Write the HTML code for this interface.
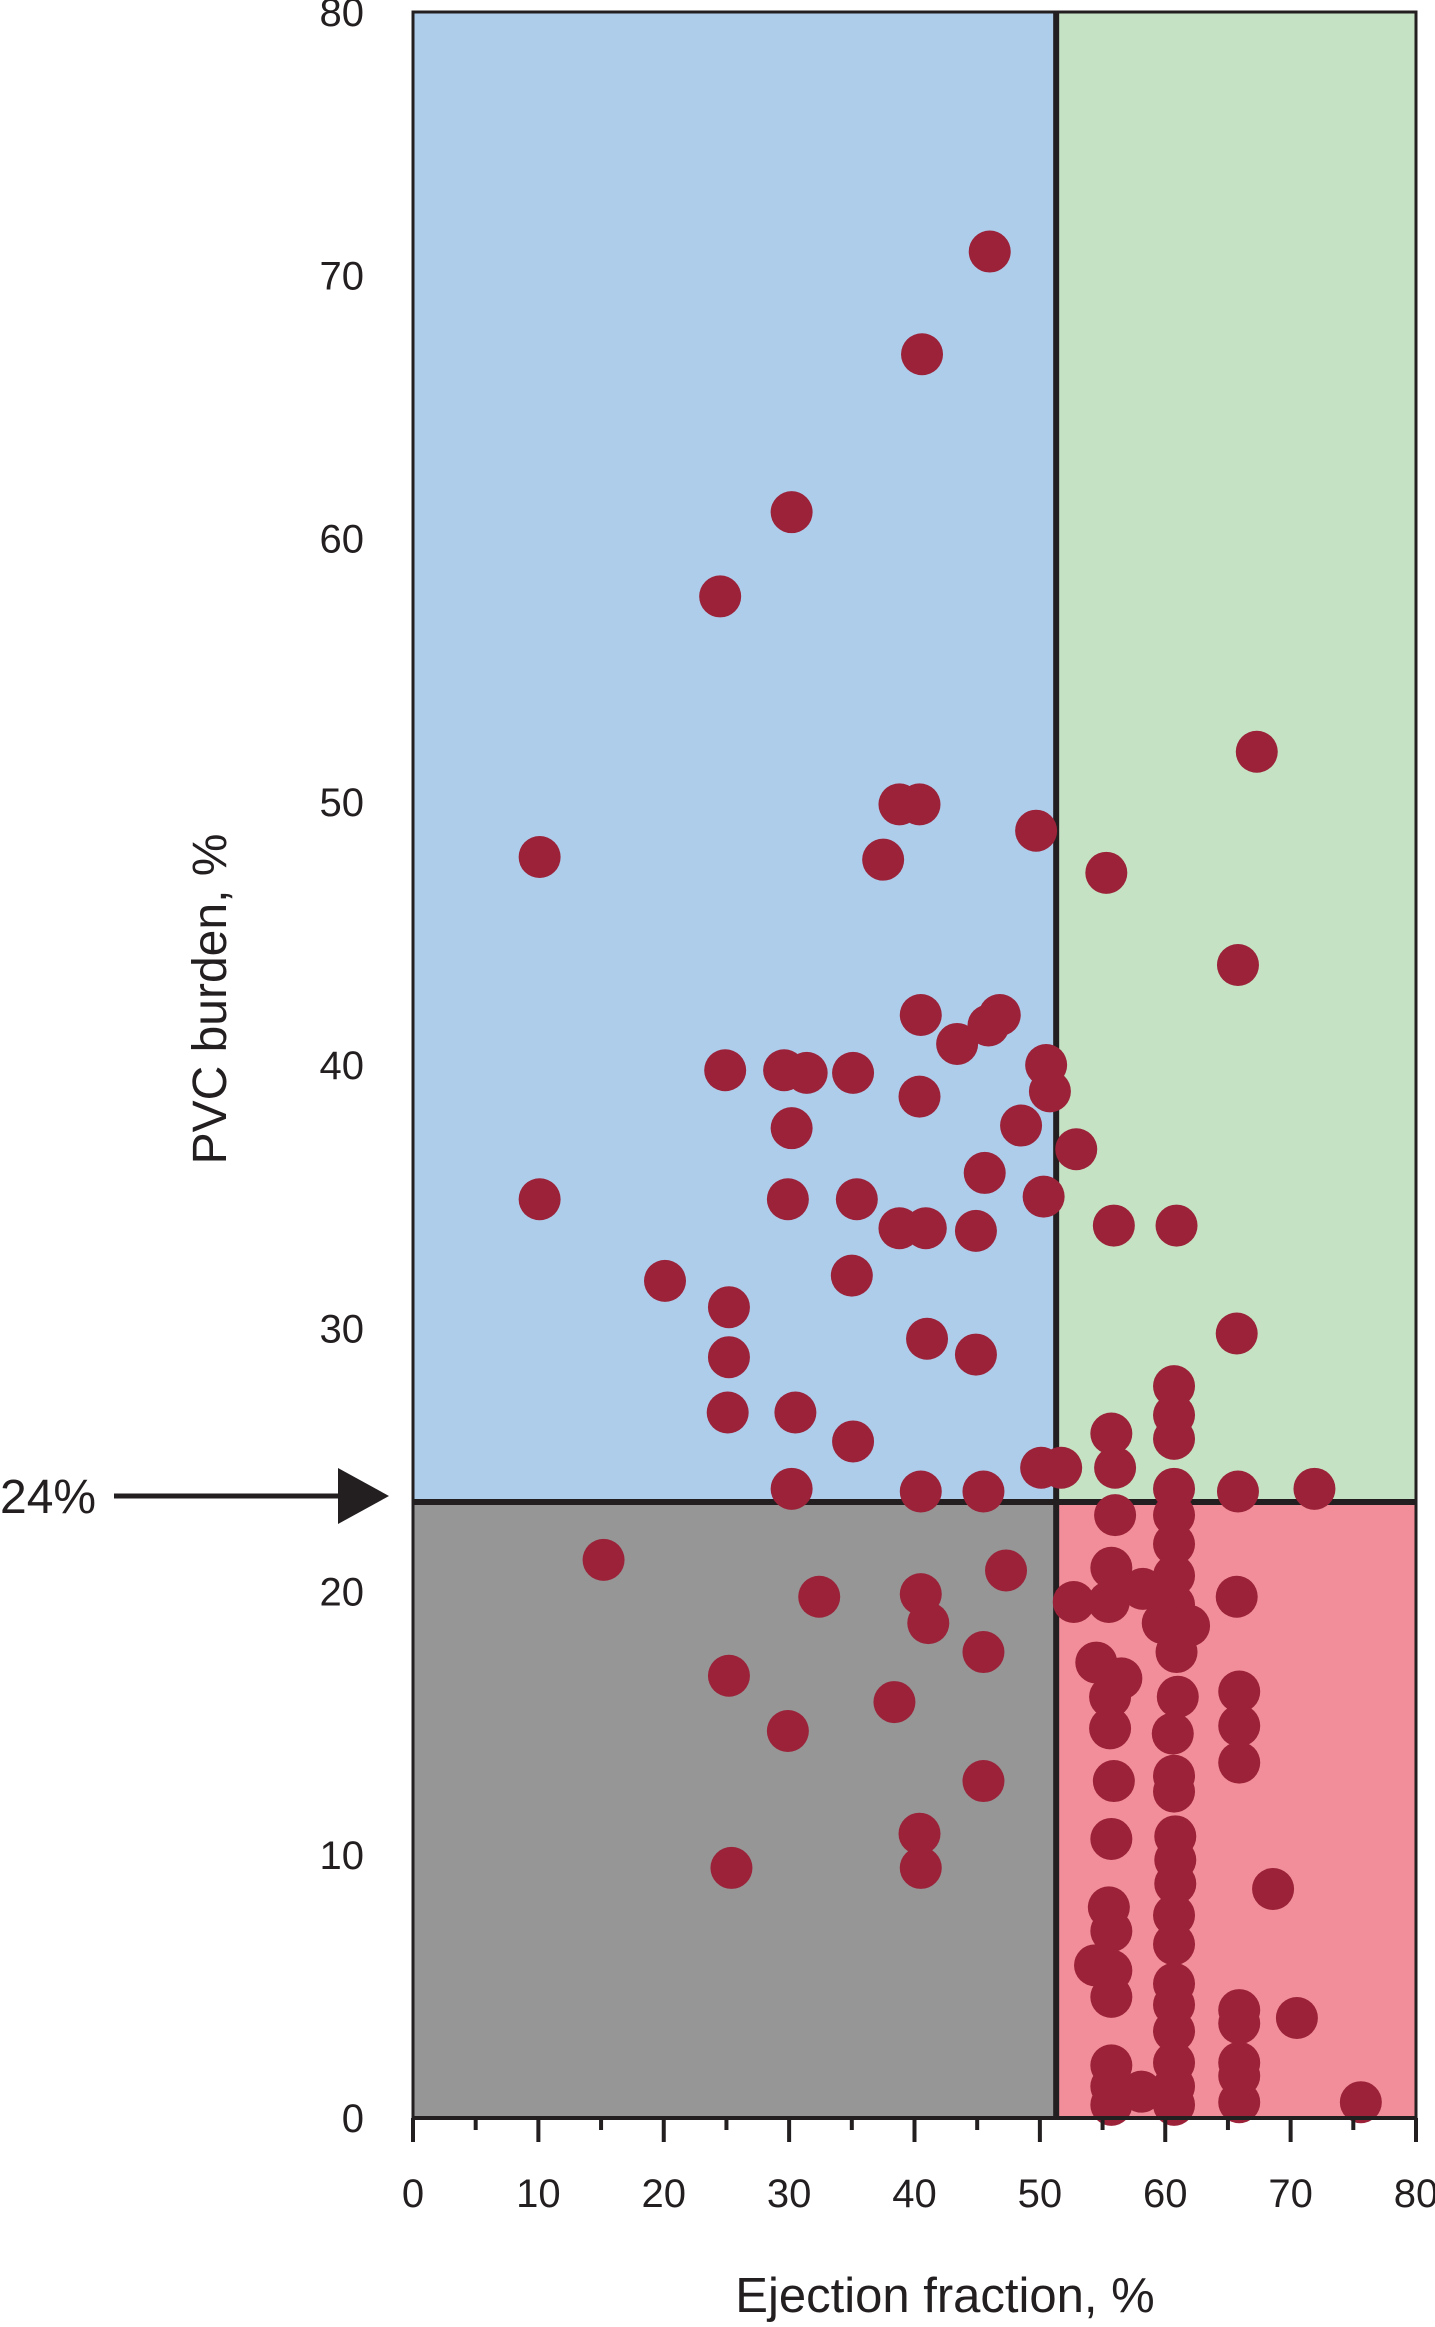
<!DOCTYPE html>
<html><head><meta charset="utf-8"><style>
html,body{margin:0;padding:0;background:#fff;}
svg{display:block;font-family:"Liberation Sans",Arial,sans-serif;}
</style></head><body>
<svg id="chart" width="1435" height="2327" viewBox="0 0 1435 2327">
<g id="regions"></g><g id="dots"></g><g id="axes"></g>
<text x="226" y="999" font-size="48" fill="#231f20" text-anchor="middle" transform="rotate(-90 226 999)">PVC burden, %</text>
<text x="945" y="2312" font-size="49" fill="#231f20" text-anchor="middle">Ejection fraction, %</text>
<g>
<text x="0" y="1513" font-size="48" fill="#231f20">24%</text>
<line x1="114" y1="1496" x2="342" y2="1496" stroke="#231f20" stroke-width="5"/>
<polygon points="338,1468 389,1496 338,1524" fill="#231f20"/>
</g>
</svg>
<script>
const xTicks=[0,10,20,30,40,50,60,70,80];
const yTicks=[0,10,20,30,40,50,60,70,80];
const efCut=[51.3];
const pvcCut=[23.4];
const efValues=[46,40.6,30.2,24.5,67.3,38.8,40.4,49.7,10.1,37.5,55.3,65.8,40.5,46.8,45.9,43.4,50.5,24.9,29.6,31.4,35.1,50.8,40.4,30.2,48.5,52.9,45.6,10.1,29.9,35.4,50.3,38.8,40.9,44.9,55.9,60.9,20.1,35.0,25.2,65.7,41.0,25.2,44.9,60.7,25.1,30.5,60.7,60.7,55.7,35.1,50.1,51.7,56.0,30.2,40.5,45.5,60.7,65.8,71.9,60.7,56.0,15.2,60.7,47.3,55.7,60.7,32.4,40.5,52.7,55.5,58.2,65.7,60.7,59.8,61.9,41.1,60.9,45.5,54.5,25.2,56.5,55.6,38.4,61.0,65.9,55.6,29.9,60.6,65.9,65.9,45.5,55.9,60.7,60.7,40.4,55.7,60.8,60.8,25.4,40.5,60.8,68.6,55.5,60.7,55.7,60.7,54.4,55.7,60.7,55.7,60.7,65.9,65.9,70.5,60.7,55.7,60.7,65.9,55.7,58.1,60.7,65.9,55.7,60.7,65.9,75.6];
const pvcValues=[70.9,67.0,61.0,57.8,51.9,49.9,49.9,48.9,47.9,47.8,47.3,43.8,41.9,41.9,41.5,40.8,40.0,39.8,39.8,39.7,39.7,39.0,38.8,37.6,37.7,36.8,35.9,34.9,34.9,34.9,35.0,33.8,33.8,33.7,33.9,33.9,31.8,32.0,30.8,29.8,29.6,28.9,29.0,27.8,26.8,26.8,26.7,25.8,26.0,25.7,24.7,24.7,24.7,23.9,23.8,23.8,23.9,23.8,23.9,22.9,22.9,21.2,21.8,20.8,20.9,20.6,19.8,19.9,19.6,19.6,20.1,19.8,19.5,18.8,18.7,18.8,17.7,17.7,17.3,16.8,16.7,16.0,15.8,16.0,16.2,14.8,14.7,14.6,14.9,13.5,12.8,12.8,13.0,12.4,10.8,10.6,10.7,9.8,9.5,9.5,8.9,8.7,8.0,7.7,7.1,6.6,5.8,5.6,5.1,4.6,4.3,4.1,3.6,3.8,3.3,2.0,2.1,2.1,1.2,1.0,1.2,1.6,0.5,0.5,0.6,0.6];
const L=413,R=1416,T=12,B=2118,NS='http://www.w3.org/2000/svg';
const xs=v=>L+(R-L)*v/80, ys=v=>B-(B-T)*v/80;
function mk(tag,a,p){const e=document.createElementNS(NS,tag);for(const k in a)e.setAttribute(k,a[k]);p.appendChild(e);return e;}
const reg=document.getElementById('regions');
const xc=xs(efCut[0]), yc=ys(pvcCut[0]);
let r;
r=mk('rect',{x:L,y:T,width:xc-L,height:yc-T,fill:'#aecdeb'},reg);


r=mk('rect',{x:xc,y:T,width:R-xc,height:yc-T,fill:'#c5e3c4'},reg);


r=mk('rect',{x:L,y:yc,width:xc-L,height:B-yc,fill:'#969696'},reg);


r=mk('rect',{x:xc,y:yc,width:R-xc,height:B-yc,fill:'#f28e99'},reg);


mk('rect',{x:L,y:T,width:R-L,height:B-T,fill:'none',stroke:'#231f20','stroke-width':3},reg);
let ln=mk('line',{x1:xc,y1:T,x2:xc,y2:B,stroke:'#231f20','stroke-width':6},reg);


ln=mk('line',{x1:L,y1:yc,x2:R,y2:yc,stroke:'#231f20','stroke-width':6},reg);


const dg=document.getElementById('dots');
efValues.forEach((v,i)=>{
 const c=mk('circle',{cx:xs(v),cy:ys(pvcValues[i]),r:21,fill:'#9b2239'},dg);
 
 
});
const ax=document.getElementById('axes');
mk('line',{x1:L,y1:B,x2:R,y2:B,stroke:'#231f20','stroke-width':4},ax);
for(let v=0;v<=80;v+=5){mk('line',{x1:xs(v),y1:B,x2:xs(v),y2:B+(v%10?12:24),stroke:'#231f20','stroke-width':4},ax);}
xTicks.forEach(v=>{const t=mk('text',{x:xs(v),y:2207,'font-size':40,fill:'#231f20','text-anchor':'middle'},ax);t.textContent=v;
 
 });
yTicks.forEach(v=>{const t=mk('text',{x:364,y:ys(v)+14,'font-size':40,fill:'#231f20','text-anchor':'end'},ax);t.textContent=v;
 
 });
</script>
</body></html>
